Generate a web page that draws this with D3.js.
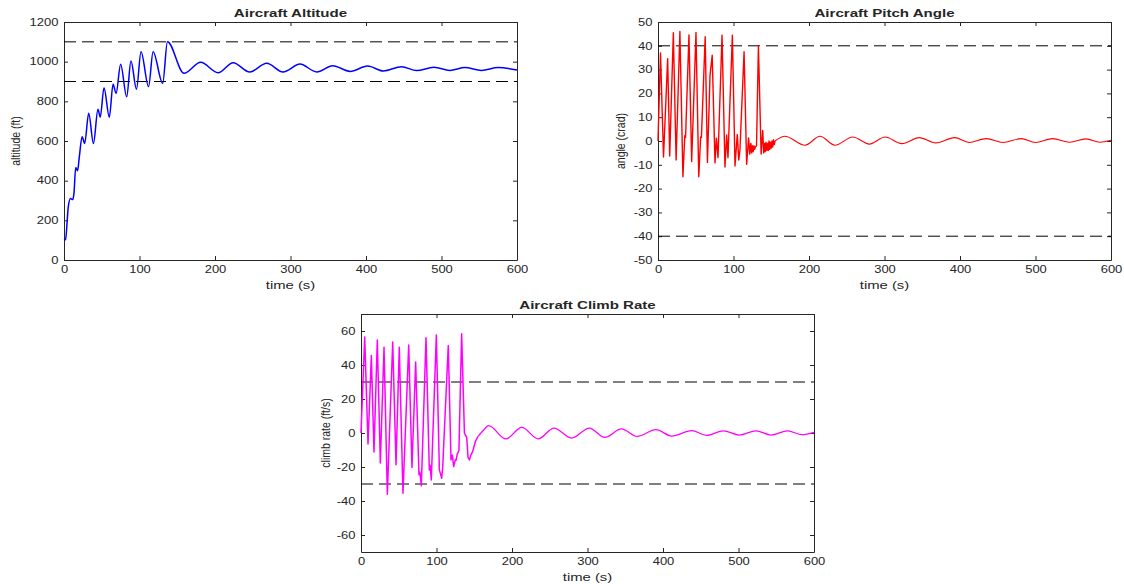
<!DOCTYPE html>
<html>
<head>
<meta charset="utf-8">
<script src="https://cdn.jsdelivr.net/npm/d3@7"></script>
<style>
  html, body { margin: 0; padding: 0; background: #fff; }
  svg { display: block; font-family: "Liberation Sans", Arial, Helvetica, sans-serif; }
  .axis path, .axis line { stroke: #262626; }
  .axis text { fill: #262626; font-size: 10px; }
</style>
</head>
<body>
<div id="chart"></div>
<script>
// time axis shared by all three plots
const timeTicks = [0, 100, 200, 300, 400, 500, 600];

// Aircraft altitude (ft) at turning points
const altT = [0, 2, 5.7, 8.5, 11.5, 13.2, 15.5, 18, 20.3, 24, 27.4, 32.7, 39, 45, 48, 53, 60, 65, 69, 75, 83, 88.7, 96, 102, 112, 118, 130.7, 137, 159, 181, 204, 224, 246, 268.5, 290, 312.6, 334.7, 356, 379, 402, 423, 447, 467, 490, 511, 531, 553, 575, 600];
const altV = [100, 104, 269, 310, 305, 336, 467, 450, 521, 622, 588, 740, 588, 760, 720, 869, 720, 886, 840, 987, 823, 1003, 861, 1050, 874, 1050, 891, 1101, 941, 997, 944, 995, 948, 992, 948, 988, 948, 980, 951, 978, 953, 975, 955, 972, 956, 970, 956, 970, 958];
const altLimits = [900, 1100];
const altTicks = [0, 200, 400, 600, 800, 1000, 1200];

// Aircraft pitch angle (crad)
const pitchT = [0, 3.3, 7.3, 12.8, 15.5, 20.3, 24, 29, 33, 35.5, 36.5, 41, 44.6, 50.3, 54, 56.5, 57.5, 62.5, 65.5, 68.9, 71.8, 75.5, 77.3, 79.5, 84.8, 88.7, 91, 92.7, 98.5, 102, 105, 107, 108.5, 114, 117.4, 120, 121.5, 123, 124, 125, 126, 127, 128, 129, 130.5, 133, 136.6, 138.7, 140, 141, 142, 143, 144, 145, 146, 147, 148, 149, 150, 151, 152, 153, 154, 155, 168, 194.7, 214.6, 234.4, 258, 280, 300.7, 322.8, 346, 368, 393, 412, 435, 457, 481, 500, 523, 545, 567, 585, 600];
const pitchV = [0, 37, -6.7, 34.6, -6.3, 45.5, -8, 46, -15, 2.2, 1.5, 44.6, -8.6, 45.6, -15, 1.7, 1.5, 43.8, -9, 27.7, 36, -9.2, 1.2, -7, 44.5, -10.9, 2.5, -7, 44.5, -10.5, 2.7, -8, -4, 37.5, -9.8, 1.3, -5.5, -1, -5, -2, -4.5, -2, -3.5, -2.5, -2, 40, -5.5, 4.4, -5, -1, -4.5, -0.5, -4, -1, -4, 0, -3.5, -0.5, -3, 0, -2.5, 0.5, -1.5, 0, 2, -1.8, 2, -1.8, 1.7, -1.3, 1.7, -1.1, 1.4, -0.8, 1.4, -0.6, 1, -0.6, 1, -0.6, 1, -0.5, 0.9, -0.5, 0.3];
const pitchLimits = [-40, 40];
const pitchTicks = [-50, -40, -30, -20, -10, 0, 10, 20, 30, 40, 50];

// Aircraft climb rate (ft/s)
const climbT = [0, 4.9, 9.3, 13.7, 17.2, 21.6, 25.6, 30.5, 34.9, 42, 46.4, 50.7, 55.6, 63.2, 67.5, 72.4, 76.8, 78, 79.9, 86.1, 90.5, 91.5, 93.1, 99.8, 103.8, 106.9, 108.2, 115.6, 119.2, 121, 122.7, 124.9, 126, 127.5, 129.7, 133.3, 137, 138, 140, 141.8, 143.6, 145.3, 148, 151.5, 155, 161.6, 169, 192, 212.8, 234.8, 255.6, 279, 302.4, 323, 345, 366, 390.7, 411.5, 438, 457.8, 480, 501, 523, 543, 565, 584, 600];
const climbV = [0, 56.4, -6.5, 45.6, -11.2, 54.7, -17.7, 50.5, -36, 53.5, -18.7, 50.5, -35.4, 51.7, -20.3, 41.7, -24.6, -23, -31, 56, -21.7, -19, -27.6, 57.6, -21.7, -26.6, -20.3, 51.5, -15.8, -13, -19.7, -15.8, -16, -12.4, -10.4, 58.4, 0, -1, -2.5, -14.4, -15.8, -13.2, -10.8, -5, -2, 1.3, 4.3, -3.5, 3.3, -3.4, 2.9, -3, 2.9, -2.6, 2.4, -2, 2, -1.8, 1.4, -1.4, 1.3, -1.2, 1.3, -1.2, 1.3, -1, 0.4];
const climbLimits = [-30, 30];
const climbTicks = [-60, -40, -20, 0, 20, 40, 60];

const W = 1124, H = 584;
const SX = 1.3; // picture is stretched sideways

const svg = d3.select('#chart').append('svg')
    .attr('width', W)
    .attr('height', H);

function stretchedText(x, y, txt, size, weight, rotate) {
    return svg.append('text')
        .attr('transform', `translate(${x},${y}) scale(${SX},1)` + (rotate ? ' rotate(-90)' : ''))
        .attr('text-anchor', 'middle')
        .attr('dy', rotate ? '0.35em' : null)
        .style('font-size', size + 'px')
        .style('font-weight', weight)
        .style('fill', '#262626')
        .text(txt);
}

function drawPanel(p) {
    const x = d3.scaleLinear().domain([0, 600]).range([p.left, p.right]);
    const y = d3.scaleLinear().domain(p.yDomain).range([p.bottom, p.top]);
    const fmt = d => String(d);

    // box axes with inward ticks
    svg.append('g').attr('class', 'axis')
        .attr('transform', `translate(0,${p.bottom})`)
        .call(d3.axisBottom(x).tickValues(timeTicks).tickSizeInner(-4).tickSizeOuter(0).tickPadding(6).tickFormat(fmt))
        .selectAll('text').attr('transform', `scale(${SX},1)`);
    svg.append('g').attr('class', 'axis')
        .attr('transform', `translate(0,${p.top})`)
        .call(d3.axisTop(x).tickValues(timeTicks).tickSizeInner(-4).tickSizeOuter(0).tickFormat(''));
    svg.append('g').attr('class', 'axis')
        .attr('transform', `translate(${p.left},0)`)
        .call(d3.axisLeft(y).tickValues(p.yTicks).tickSizeInner(-4).tickSizeOuter(0).tickFormat(fmt))
        .selectAll('text')
        .attr('x', -5.5 / SX)
        .attr('transform', `scale(${SX},1)`);
    svg.append('g').attr('class', 'axis')
        .attr('transform', `translate(${p.right},0)`)
        .call(d3.axisRight(y).tickValues(p.yTicks).tickSizeInner(-4).tickSizeOuter(0).tickFormat(''));

    // dashed limits
    p.limits.forEach(v => {
        svg.append('line')
            .attr('x1', x(0)).attr('x2', x(600))
            .attr('y1', y(v)).attr('y2', y(v))
            .attr('stroke', '#000')
            .attr('stroke-width', 1)
            .attr('stroke-dasharray', '12,6');
    });

    const pts = p.t.map((t, i) => [t, p.v[i]]);
    const transient = pts.filter(d => d[0] <= p.settle);
    const settled = pts.filter(d => d[0] >= p.settle);

    svg.append('path')
        .datum(transient)
        .attr('fill', 'none')
        .attr('stroke', p.color)
        .attr('stroke-width', p.w1)
        .attr('stroke-linejoin', 'round')
        .attr('d', d3.line().x(d => x(d[0])).y(d => y(d[1])).curve(p.curve1));
    svg.append('path')
        .datum(settled)
        .attr('fill', 'none')
        .attr('stroke', p.color)
        .attr('stroke-width', p.w2)
        .attr('d', d3.line().x(d => x(d[0])).y(d => y(d[1])).curve(d3.curveMonotoneX));

    const cx = (p.left + p.right) / 2;
    stretchedText(cx, p.top - 5, p.title, 11, 'bold', false).attr('transform', `translate(${cx},${p.top - 5}) scale(1.37,1)`);
    stretchedText(cx, p.bottom + 29, 'time (s)', 11, 'normal', false).attr('transform', `translate(${cx},${p.bottom + 29}) scale(1.35,1)`);
    stretchedText(p.ylabX, (p.top + p.bottom) / 2, p.ylab, 10.5, 'normal', true);
}

drawPanel({
    left: 64, right: 517, top: 22, bottom: 260,
    yDomain: [0, 1200], yTicks: altTicks,
    t: altT, v: altV, limits: altLimits, settle: 0,
    color: '#0000ff', w1: 1.7, w2: 1.5, curve1: d3.curveMonotoneX,
    title: 'Aircraft Altitude', ylab: 'altitude (ft)', ylabX: 15
});
drawPanel({
    left: 658, right: 1111, top: 22, bottom: 260,
    yDomain: [-50, 50], yTicks: pitchTicks,
    t: pitchT, v: pitchV, limits: pitchLimits, settle: 155,
    color: '#ff0000', w1: 1.4, w2: 1.1, curve1: d3.curveLinear,
    title: 'Aircraft Pitch Angle', ylab: 'angle (crad)', ylabX: 620
});
drawPanel({
    left: 361, right: 814, top: 314, bottom: 552,
    yDomain: [-70, 70], yTicks: climbTicks,
    t: climbT, v: climbV, limits: climbLimits, settle: 155,
    color: '#ff00ff', w1: 1.5, w2: 1.3, curve1: d3.curveLinear,
    title: 'Aircraft Climb Rate', ylab: 'climb rate (ft/s)', ylabX: 325
});
</script>
</body>
</html>
